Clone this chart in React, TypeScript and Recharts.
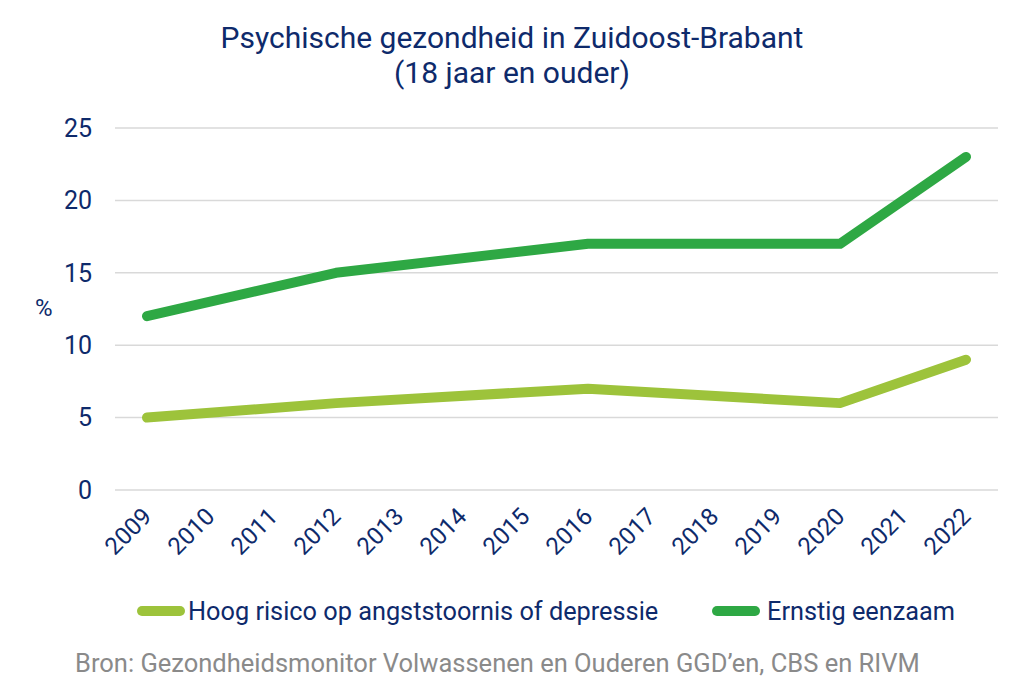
import React from 'react';
import { LineChart, Line, XAxis, YAxis, CartesianGrid } from 'recharts';

const years = ['2009','2010','2011','2012','2013','2014','2015','2016','2017','2018','2019','2020','2021','2022'];
const angst: (number | null)[] = [5, null, null, 6, null, null, null, 7, null, null, null, 6, null, 9];
const eenzaam: (number | null)[] = [12, null, null, 15, null, null, null, 17, null, null, null, 17, null, 23];
const yTicks = [0, 5, 10, 15, 20, 25];

const seriesNames = ['Hoog risico op angststoornis of depressie', 'Ernstig eenzaam'];
const colors = ['#9DC33B', '#2EA844'];
const navy = '#0E2A6B';
const font = 'Roboto, "Noto Sans", sans-serif';

const data = years.map((y, i) => ({ year: y, angst: angst[i], eenzaam: eenzaam[i] }));

const XTick = (props: any) => {
  const { x, y, payload } = props;
  return (
    <g transform={`translate(${x + 6},${y + 28})`}>
      <text transform="rotate(-45)" textAnchor="end" fill={navy} fontSize={24} fontFamily={font}>
        {payload.value}
      </text>
    </g>
  );
};

export default function App() {
  return (
    <div style={{ position: 'absolute', left: 0, top: 0, width: 1024, height: 697, background: '#fff', fontFamily: font }}>
      <div style={{ position: 'absolute', left: 0, top: 20, width: 1024, textAlign: 'center', color: navy, fontSize: 30, lineHeight: '35px' }}>
        Psychische gezondheid in Zuidoost-Brabant<br />(18 jaar en ouder)
      </div>
      <div style={{ position: 'absolute', left: 35, top: 294, color: navy, fontSize: 24 }}>%</div>
      <LineChart width={1024} height={560} data={data} margin={{ top: 128, right: 26, left: 0, bottom: 0 }}>
        <CartesianGrid vertical={false} stroke="#D9D9D9" strokeWidth={1.5} />
        <XAxis dataKey="year" axisLine={false} tickLine={false} tickSize={0} tickMargin={0} height={70} interval={0}
          padding={{ left: 32, right: 32 }} tick={<XTick />} />
        <YAxis domain={[0, 25]} ticks={yTicks} width={115} axisLine={false} tickLine={false} tickSize={0} tickMargin={23}
          tick={{ fill: navy, fontSize: 25, fontFamily: font }} />
        <Line dataKey="angst" name={seriesNames[0]} stroke={colors[0]} strokeWidth={10} strokeLinecap="round" strokeLinejoin="round" dot={false} connectNulls isAnimationActive={false} />
        <Line dataKey="eenzaam" name={seriesNames[1]} stroke={colors[1]} strokeWidth={10} strokeLinecap="round" strokeLinejoin="round" dot={false} connectNulls isAnimationActive={false} />
      </LineChart>
      <div style={{ position: 'absolute', left: 0, top: 596, width: 1024, height: 32, color: navy, fontSize: 25.3 }}>
        <div style={{ position: 'absolute', left: 137, top: 10, width: 48, height: 10, borderRadius: 5, background: colors[0] }} />
        <div style={{ position: 'absolute', left: 188, top: 0, lineHeight: '32px', whiteSpace: 'nowrap' }}>{seriesNames[0]}</div>
        <div style={{ position: 'absolute', left: 712, top: 10, width: 48, height: 10, borderRadius: 5, background: colors[1] }} />
        <div style={{ position: 'absolute', left: 767, top: 0, lineHeight: '32px', whiteSpace: 'nowrap' }}>{seriesNames[1]}</div>
      </div>
      <div style={{ position: 'absolute', left: 75, top: 647, color: '#8A8A8A', fontSize: 25.5, lineHeight: '32px', whiteSpace: 'nowrap' }}>
        Bron: Gezondheidsmonitor Volwassenen en Ouderen GGD’en, CBS en RIVM
      </div>
    </div>
  );
}
